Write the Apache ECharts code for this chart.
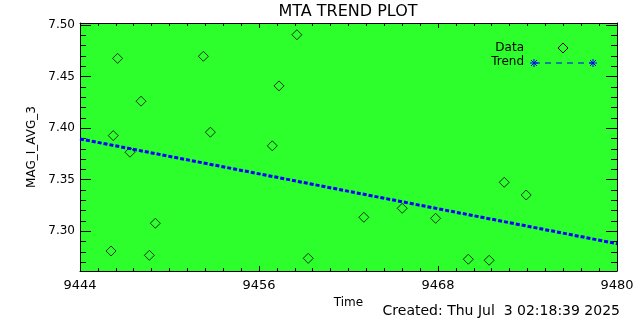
<!DOCTYPE html>
<html lang="en">
<head>
<meta charset="UTF-8">
<title>MTA TREND PLOT</title>
<script src="https://cdn.jsdelivr.net/npm/echarts@6/dist/echarts.min.js"></script>
<style>
  html, body { margin: 0; background: #fff; }
  #chart { width: 640px; height: 320px; }
</style>
</head>
<body>
<div id="chart"></div>
<script>
// data
var times  = [9446.08, 9446.23, 9446.52, 9447.35, 9448.09, 9448.65, 9449.05, 9452.27, 9452.74, 9456.89,
              9457.34, 9458.54, 9459.30, 9463.03, 9465.60, 9467.84, 9470.03, 9471.43, 9472.44, 9473.91];
var values = [7.2809, 7.3928, 7.4677, 7.3767, 7.4262, 7.2767, 7.3078, 7.4697, 7.3961, 7.3829,
              7.4410, 7.4906, 7.2738, 7.3136, 7.3223, 7.3126, 7.2729, 7.2719, 7.3475, 7.3352];
var trendTimes  = [9444, 9480];
var trendValues = [7.3896, 7.2880];
var yTicks = [7.30, 7.35, 7.40, 7.45, 7.50];
var yMinor = [7.27, 7.28, 7.29, 7.31, 7.32, 7.33, 7.34, 7.36, 7.37, 7.38, 7.39,
              7.41, 7.42, 7.43, 7.44, 7.46, 7.47, 7.48, 7.49];

var font = 'DejaVu Sans';
var chart = echarts.init(document.getElementById('chart'), null, {renderer: 'canvas'});

var pts = [];
for (var i = 0; i < times.length; i++) pts.push([times[i], values[i]]);
var trend = [];
for (var j = 0; j < trendTimes.length; j++) trend.push([trendTimes[j], trendValues[j]]);

function xAx(pos, labels) {
  return {
    type: 'value', position: pos, min: 9444, max: 9480, interval: 12,
    name: labels ? 'Time' : '', nameLocation: 'middle', nameGap: 26,
    nameTextStyle: {color: '#000', fontFamily: font, fontSize: 12},
    axisLine: {show: true, onZero: false, lineStyle: {color: '#000', width: 1}},
    axisTick: {show: true, inside: true, length: 5, lineStyle: {color: '#000'}},
    minorTick: {show: true, splitNumber: 10, length: 3, lineStyle: {color: '#000'}},
    axisLabel: {show: labels, color: '#000', fontFamily: font, fontSize: 13, margin: 8,
                formatter: function (v) { return String(v); }},
    splitLine: {show: false}, minorSplitLine: {show: false}
  };
}
function yAx(pos, ticks, len, labels, line) {
  return {
    type: 'value', position: pos, min: 7.2615, max: 7.502,
    name: labels ? 'MAG_I_AVG_3' : '', nameLocation: 'middle', nameGap: 42,
    nameTextStyle: {color: '#000', fontFamily: font, fontSize: 12},
    axisLine: {show: line, onZero: false, lineStyle: {color: '#000', width: 1}},
    axisTick: {show: true, inside: true, length: len, customValues: ticks, lineStyle: {color: '#000'}},
    axisLabel: {show: labels, customValues: yTicks, color: '#000', fontFamily: font, fontSize: 12, margin: 5,
                formatter: function (v) { return v.toFixed(2); }},
    splitLine: {show: false}
  };
}

function asterisk(cx, cy) {
  var s = {stroke: '#0000ff', lineWidth: 1};
  return {type: 'group', children: [
    {type: 'line', shape: {x1: cx - 4, y1: cy, x2: cx + 4, y2: cy}, style: s},
    {type: 'line', shape: {x1: cx, y1: cy - 4, x2: cx, y2: cy + 4}, style: s},
    {type: 'line', shape: {x1: cx - 3, y1: cy - 3, x2: cx + 3, y2: cy + 3}, style: s},
    {type: 'line', shape: {x1: cx - 3, y1: cy + 3, x2: cx + 3, y2: cy - 3}, style: s}
  ]};
}

chart.setOption({
  animation: false,
  backgroundColor: '#fff',
  grid: {left: 80, right: 23, top: 23, bottom: 49, show: true, backgroundColor: '#2dff2d', borderWidth: 0},
  xAxis: [xAx('bottom', true), xAx('top', false)],
  yAxis: [yAx('left', yTicks, 11, true, true), yAx('left', yMinor, 6, false, false),
          yAx('right', yTicks, 11, false, true), yAx('right', yMinor, 6, false, false)],
  series: [
    {type: 'scatter', data: pts, symbol: 'diamond', symbolSize: 10,
     itemStyle: {color: 'transparent', borderColor: '#000', borderWidth: 1}},
    {type: 'line', data: trend, symbol: 'none',
     lineStyle: {color: '#0000ff', width: 3, type: [4, 2]}}
  ],
  graphic: [
    {type: 'text', x: 348, y: 12, style: {text: 'MTA TREND PLOT', fill: '#000', font: '16px ' + font, align: 'center', verticalAlign: 'middle'}},
    {type: 'text', x: 524, y: 48, style: {text: 'Data', fill: '#000', font: '12px ' + font, align: 'right', verticalAlign: 'middle'}},
    {type: 'polygon', shape: {points: [[563, 43], [568, 48], [563, 53], [558, 48]]}, style: {fill: 'none', stroke: '#000', lineWidth: 1}},
    {type: 'text', x: 524, y: 62, style: {text: 'Trend', fill: '#000', font: '12px ' + font, align: 'right', verticalAlign: 'middle'}},
    {type: 'line', shape: {x1: 534, y1: 63, x2: 593, y2: 63}, style: {stroke: '#0000ff', lineWidth: 1, lineDash: [6, 5]}},
    asterisk(534, 63),
    asterisk(593, 63),
    {type: 'text', x: 620, y: 311, style: {text: 'Created: Thu Jul  3 02:18:39 2025', fill: '#000', font: '14px ' + font, align: 'right', verticalAlign: 'middle'}}
  ]
});
</script>
</body>
</html>
